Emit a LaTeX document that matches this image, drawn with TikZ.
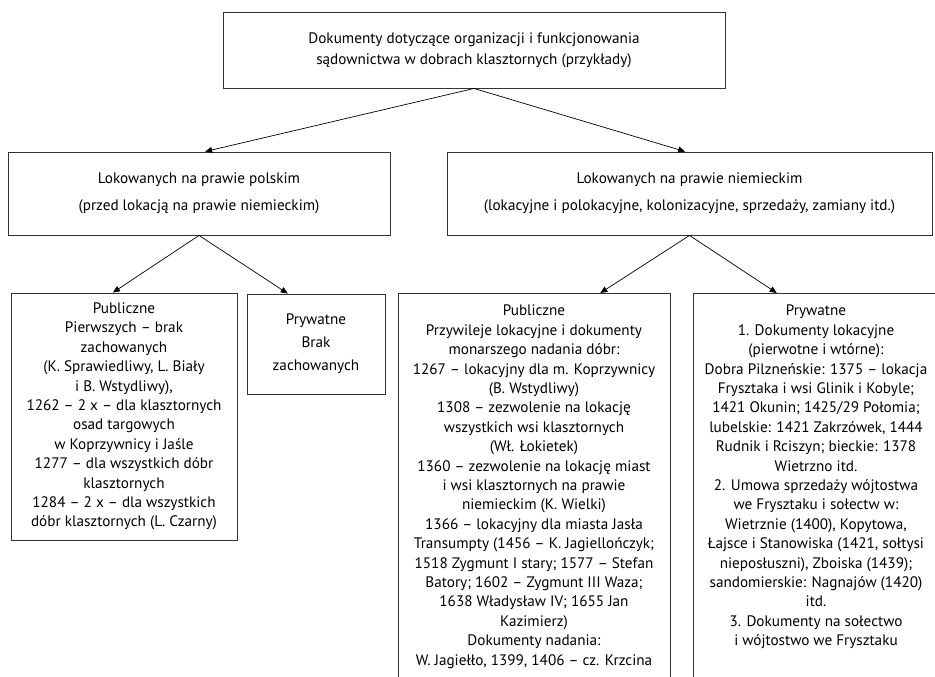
\documentclass[tikz,border=0pt]{standalone}
\usepackage{fontspec}
\setmainfont{PT Sans}
\usetikzlibrary{arrows.meta,calc}
\begin{document}
\begin{tikzpicture}[x=1pt,y=-1pt,
  box/.style={draw=black!80,line width=0.9pt,inner sep=0pt,align=center},
  txt/.style={inner sep=0pt,align=center,font=\fontsize{15.2}{19.4}\selectfont},
  conn/.style={draw=black,line width=0.7pt,-{Triangle[length=7pt,width=6pt]}}]
\useasboundingbox (0,0) rectangle (935,677);
\clip (0,0) rectangle (935,677);
\node[box,minimum width=502pt,minimum height=76pt,font=\fontsize{15.2}{21}\selectfont] (top) at (474,50)
  {Dokumenty dotyczące organizacji i funkcjonowania\\ sądownictwa w dobrach klasztornych (przykłady)};
\node[box,minimum width=382pt,minimum height=83pt,font=\fontsize{15.2}{27}\selectfont] (lp) at (199,193.5)
  {Lokowanych na prawie polskim\\(przed lokacją na prawie niemieckim)};
\node[box,minimum width=485pt,minimum height=83pt,font=\fontsize{15.2}{27}\selectfont] (rp) at (689.5,193.5)
  {Lokowanych na prawie niemieckim\\ (lokacyjne i polokacyjne, kolonizacyjne, sprzedaży, zamiany itd.)};
\node[box,minimum width=226pt,minimum height=247pt,font=\fontsize{15.2}{19.4}\selectfont] (a) at (124,416.5)
  {Publiczne\\Pierwszych – brak\\zachowanych\\(K. Sprawiedliwy, L. Biały\\i B. Wstydliwy),\\1262 – 2 x – dla klasztornych\\osad targowych\\w Koprzywnicy i Jaśle\\1277 – dla wszystkich dóbr\\klasztornych\\1284 – 2 x – dla wszystkich\\dóbr klasztornych (L. Czarny)};
\node[box,minimum width=138pt,minimum height=100pt,font=\fontsize{15.2}{23}\selectfont] (b) at (316,344)
  {Prywatne\\Brak\\zachowanych};
\node[box,anchor=north,minimum width=272pt,minimum height=420pt] (c) at (534,293) {};
\node[txt,anchor=north] (ct) at (534,305)
  {Publiczne\\Przywileje lokacyjne i dokumenty\\monarszego nadania dóbr:\\1267 – lokacyjny dla m. Koprzywnicy\\(B. Wstydliwy)\\1308 – zezwolenie na lokację\\wszystkich wsi klasztornych\\(Wł. Łokietek)\\1360 – zezwolenie na lokację miast\\i wsi klasztornych na prawie\\niemieckim (K. Wielki)\\1366 – lokacyjny dla miasta Jasła\\Transumpty (1456 – K. Jagiellończyk;\\1518 Zygmunt I stary; 1577 – Stefan\\Batory; 1602 – Zygmunt III Waza;\\1638 Władysław IV; 1655 Jan\\Kazimierz)\\Dokumenty nadania:\\W. Jagiełło, 1399, 1406 – cz. Krzcina};
\node[box,anchor=north,minimum width=246pt,minimum height=420pt] (d) at (816,293) {};
\node[txt,anchor=north] (dt) at (816,305)
  {Prywatne\\1. Dokumenty lokacyjne\\(pierwotne i wtórne):\\Dobra Pilzneńskie: 1375 – lokacja\\Frysztaka i wsi Glinik i Kobyle;\\1421 Okunin; 1425/29 Połomia;\\lubelskie: 1421 Zakrzówek, 1444\\Rudnik i Rciszyn; bieckie: 1378\\Wietrzno itd.\\2. Umowa sprzedaży wójtostwa\\we Frysztaku i sołectw w:\\Wietrznie (1400), Kopytowa,\\Łajsce i Stanowiska (1421, sołtysi\\nieposłuszni), Zboiska (1439);\\sandomierskie: Nagnajów (1420)\\itd.\\3. Dokumenty na sołectwo\\i wójtostwo we Frysztaku};
\draw[conn] (top.south) -- ($(lp.north west)!0.516!(lp.north east)$);
\draw[conn] (top.south) -- ($(rp.north west)!0.491!(rp.north east)$);
\draw[conn] (lp.south) -- ($(a.north west)!0.451!(a.north east)$);
\draw[conn] (lp.south) -- ($(b.north west)!0.297!(b.north east)$);
\draw[conn] (rp.south) -- ($(c.north west)!0.743!(c.north east)$);
\draw[conn] (rp.south) -- ($(d.north west)!0.341!(d.north east)$);
\end{tikzpicture}
\end{document}
